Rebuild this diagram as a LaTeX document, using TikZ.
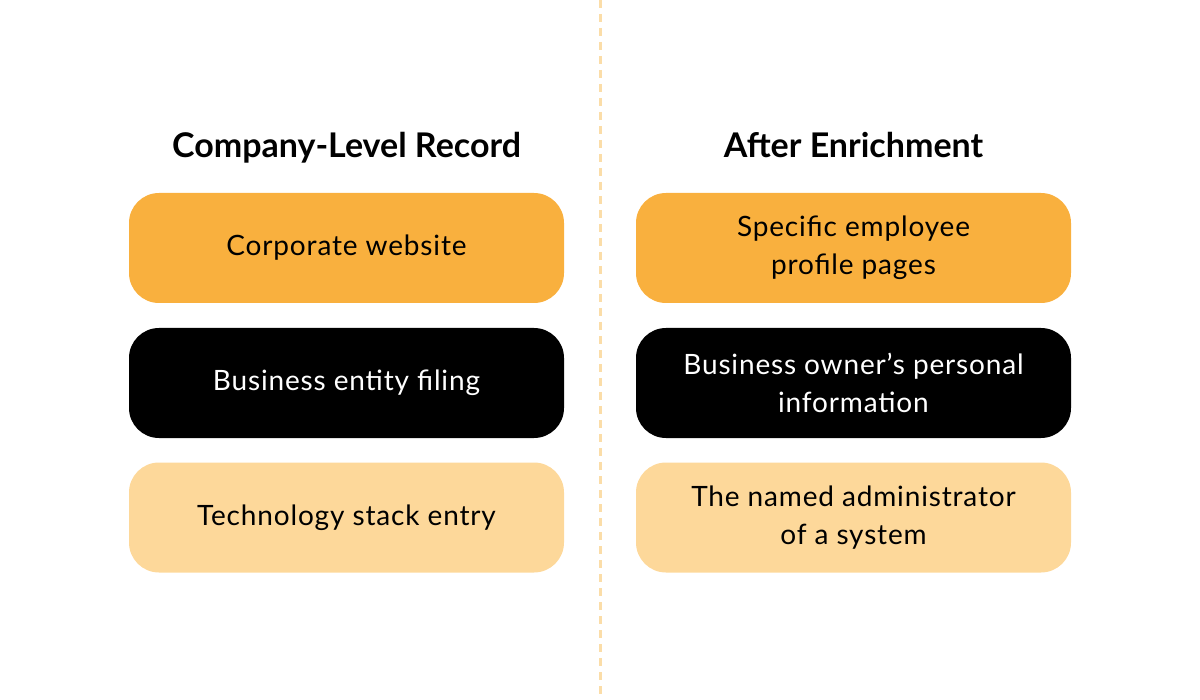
\documentclass[tikz,border=0pt]{standalone}
\usepackage{fontspec}
\setmainfont{Lato}
\definecolor{org}{HTML}{F9B03E}
\definecolor{lorg}{HTML}{FDD89A}
\definecolor{dashcol}{HTML}{FBDDA8}
\begin{document}
\begin{tikzpicture}[x=0.5pt,y=-0.5pt,
  box/.style={draw=none,rounded corners=15pt,minimum width=217.5pt,minimum height=55pt,align=center,font=\fontsize{14}{19}\selectfont\addfontfeatures{LetterSpace=3},inner sep=0pt},
  head/.style={font=\fontsize{17}{18}\selectfont\bfseries,text height=12pt,text depth=3pt}]
\useasboundingbox (0,0) rectangle (1200,700);
\coordinate (t) at (600,0); \coordinate (b) at (600,700);
\draw[draw=dashcol,line width=1.5pt,dash pattern=on 4pt off 3pt] (t) -- (b);
\node[head] (h1) at (346.5,149) {Company-Level Record};
\node[head] (h2) at (853.5,149) {After Enrichment};
\node[box,fill=org] (a1) at (346.5,248) {Corporate website};
\node[box,fill=black,text=white] (a2) at (346.5,383) {Business entity filing};
\node[box,fill=lorg] (a3) at (346.5,517.5) {Technology stack entry};
\node[box,fill=org] (b1) at (853.5,248) {Specific employee\\profile pages};
\node[box,fill=black,text=white] (b2) at (853.5,383) {Business owner’s personal\\information};
\node[box,fill=lorg] (b3) at (853.5,517.5) {The named administrator\\of a system};
\end{tikzpicture}
\end{document}
